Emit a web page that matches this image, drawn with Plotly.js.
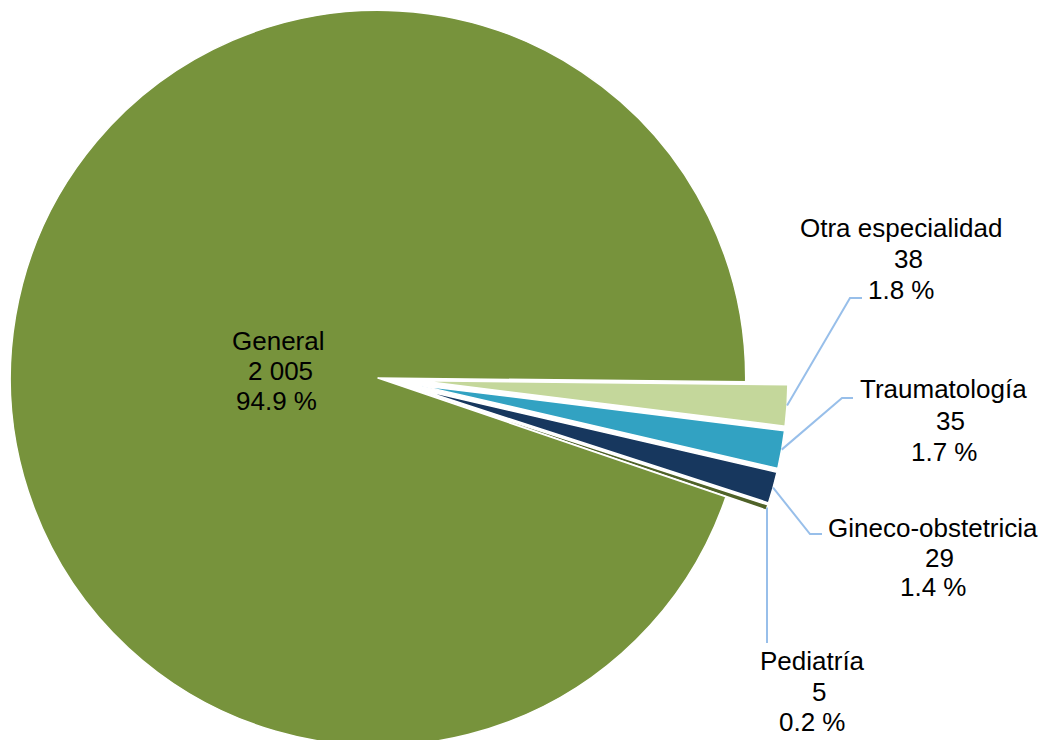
<!DOCTYPE html>
<html><head><meta charset="utf-8">
<script src="https://cdn.plot.ly/plotly-3.0.1.min.js"></script>
<style>
html,body{margin:0;padding:0;overflow:hidden;background:#fff;width:1052px;height:740px;position:relative}
#chart{position:absolute;left:-50px;top:-32px;width:1102px;height:820px}
</style>
</head><body><div id="chart"></div>
<script>
// ---- data ----
const categories = ["Otra especialidad", "Traumatología", "Gineco-obstetricia", "Pediatría", "General"];
const values = [38, 35, 29, 5, 2005];
const colors = ["#C4D79B", "#32A2C2", "#17375E", "#4F6228", "#77933C"];
const pulls = [0.115, 0.115, 0.115, 0.115, 0];

// ---- label placement (page px): line centres and leader elbows ----
const labelX = [[901, 908, 901], [943, 950, 944], [933, 939, 933], [812, 819, 812], [278, 280, 276]];
const labelY = [[228, 259, 290], [389, 420.5, 452], [528, 557.5, 587], [661, 692, 722], [341, 371, 401]];
const elbows = [[[850, 298], [862, 298]], [[842, 398], [853, 398]], [[810, 534], [822, 534]], [[null, 643]], null];

// ---- geometry of the oversized plot div ----
const OX = 50, OY = 32, W = 1102, H = 820;
const domX = [0, 856 / W], domY = [0, 1];
const rotation = 90.6;
const maxPull = Math.max(...pulls);
const boxW = W * (domX[1] - domX[0]), boxH = H * (domY[1] - domY[0]);
const R = Math.min(boxW, boxH) / (2 + 2 * maxPull);
const CX = W * (domX[0] + domX[1]) / 2 - OX;
const CY = H * (1 - (domY[0] + domY[1]) / 2) - OY;

const px = (x) => (x + OX) / W;
const py = (y) => 1 - (y + OY) / H;

const total = values.reduce((a, b) => a + b, 0);
const fmt = (v) => String(v).replace(/\B(?=(\d{3})+(?!\d))/g, ' ');
const pct = (v) => (100 * v / total).toFixed(1) + ' %';

const annotations = [];
const shapes = [];
let ang = rotation - 90; // degrees clockwise from 3 o'clock
categories.forEach((c, i) => {
  const span = 360 * values[i] / total;
  const mid = (ang + span / 2) * Math.PI / 180;
  ang += span;
  const lines = [c, fmt(values[i]), pct(values[i])];
  lines.forEach((t, k) => {
    annotations.push({
      xref: 'paper', yref: 'paper', x: px(labelX[i][k]), y: py(labelY[i][k]),
      xanchor: 'center', yanchor: 'middle', showarrow: false, text: t,
      font: {family: 'Arial, "Liberation Sans", sans-serif', size: 26, color: '#000'}
    });
  });
  if (elbows[i]) {
    const ax = CX + R * (1 + pulls[i]) * Math.cos(mid);
    const ay = CY + R * (1 + pulls[i]) * Math.sin(mid);
    let p = 'M ' + px(ax) + ',' + py(ay);
    elbows[i].forEach(([ex, ey]) => {
      const xx = ex === null ? ax : ex;
      p += ' L ' + px(xx) + ',' + py(ey);
    });
    shapes.push({type: 'path', xref: 'paper', yref: 'paper', path: p,
      line: {color: '#98BFEA', width: 2}});
  }
});

const trace = {
  type: 'pie', labels: categories, values: values, sort: false,
  direction: 'clockwise', rotation: rotation, pull: pulls,
  marker: {colors: colors, line: {color: '#ffffff', width: 1.5}},
  textinfo: 'none', hoverinfo: 'skip', showlegend: false,
  domain: {x: domX, y: domY}
};

Plotly.newPlot('chart', [trace], {
  width: W, height: H, margin: {l: 0, r: 0, t: 0, b: 0},
  paper_bgcolor: '#fff', showlegend: false,
  annotations: annotations, shapes: shapes
}, {staticPlot: true});
</script>
</body></html>
